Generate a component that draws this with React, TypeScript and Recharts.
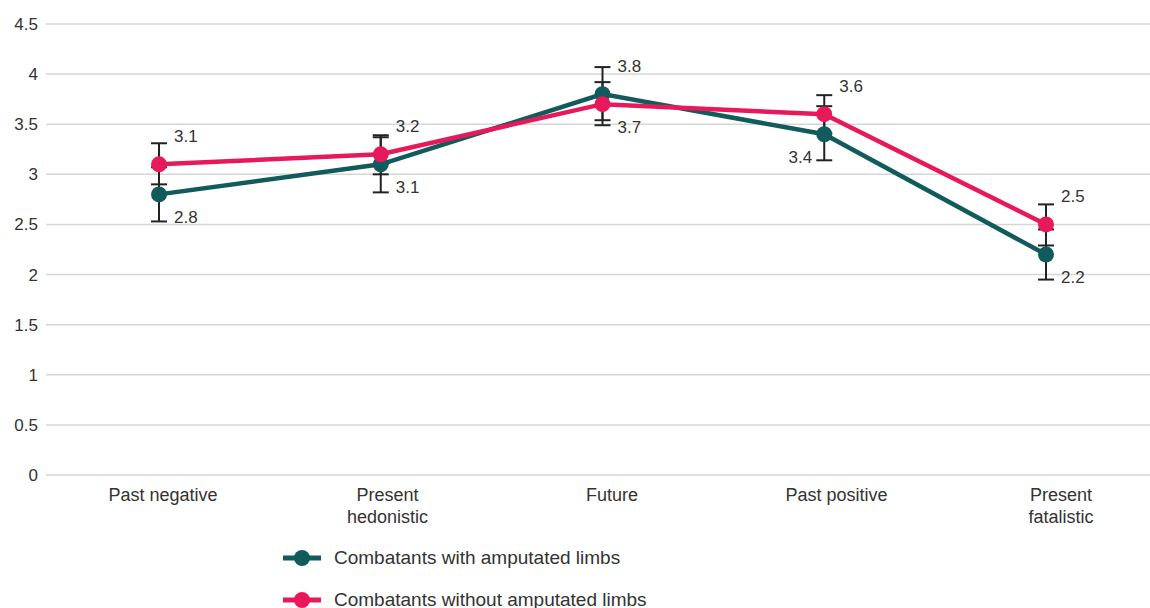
import React from "react";
import {
  LineChart,
  Line,
  XAxis,
  YAxis,
  CartesianGrid,
  ErrorBar,
  LabelList,
  Legend,
} from "recharts";

const categories = [
  "Past negative",
  "Present hedonistic",
  "Future",
  "Past positive",
  "Present fatalistic",
];
const withAmputation = [2.8, 3.1, 3.8, 3.4, 2.2];
const withoutAmputation = [3.1, 3.2, 3.7, 3.6, 2.5];
// [below, above] spread of each mean
const withAmputationErr = [
  [0.27, 0.27],
  [0.28, 0.27],
  [0.26, 0.27],
  [0.26, 0.28],
  [0.25, 0.25],
];
const withoutAmputationErr = [
  [0.2, 0.21],
  [0.2, 0.19],
  [0.21, 0.22],
  [0.19, 0.19],
  [0.21, 0.2],
];
const yTicks = [0, 0.5, 1, 1.5, 2, 2.5, 3, 3.5, 4, 4.5];

const TEAL = "#125b5c";
const PINK = "#e8195b";
const TEXT = "#333333";
const FONT = "'Liberation Sans', Arial, sans-serif";

const data = categories.map((name, i) => ({
  name,
  withAmp: withAmputation[i],
  withoutAmp: withoutAmputation[i],
  withAmpErr: withAmputationErr[i],
  withoutAmpErr: withoutAmputationErr[i],
}));

// value label: above the dot for the higher series, below for the lower one,
// flipped to the left when the line falls steeply right after the point
function valueLabel(own: number[], other: number[]) {
  return (props: any) => {
    const { x, y, index } = props;
    const v = own[index];
    const above = v > other[index];
    const next = own[index + 1];
    const toLeft = !above && next !== undefined && v - next > 0.5;
    return (
      <text
        x={toLeft ? x - 12 : x + 15}
        y={above ? y - 28 : y + 23}
        textAnchor={toLeft ? "end" : "start"}
        dominantBaseline="central"
        fontSize={17}
        fill={TEXT}
      >
        {v.toFixed(1)}
      </text>
    );
  };
}

// long two-word category names break after the first word
const CategoryTick = (props: any) => {
  const { x, y, payload } = props;
  const value = String(payload.value);
  const words = value.split(" ");
  const lines = value.length > 14 ? [words[0], words.slice(1).join(" ")] : [value];
  return (
    <text x={x} y={y + 18} textAnchor="middle" fontSize={18} fill={TEXT}>
      {lines.map((line, i) => (
        <tspan key={i} x={x} dy={i === 0 ? 0 : 22}>
          {line}
        </tspan>
      ))}
    </text>
  );
};

const LegendBox = (props: any) => {
  const items = (props.payload || []).filter((p: any) => p.type !== "none");
  return (
    <div style={{ height: 90 }}>
      {items.map((item: any) => (
        <div
          key={item.value}
          style={{
            display: "flex",
            alignItems: "center",
            height: 26,
            marginBottom: 16,
          }}
        >
          <svg width={38} height={20} style={{ marginRight: 13 }}>
            <line x1={0} y1={10} x2={38} y2={10} stroke={item.color} strokeWidth={5} />
            <circle cx={19} cy={10} r={8} fill={item.color} />
          </svg>
          <span style={{ fontSize: 19, color: TEXT, whiteSpace: "nowrap" }}>
            {item.value}
          </span>
        </div>
      ))}
    </div>
  );
};

export default function App() {
  return (
    <div
      style={{
        position: "fixed",
        left: 0,
        top: 0,
        width: 1150,
        height: 608,
        overflow: "hidden",
        background: "#fff",
        fontFamily: FONT,
      }}
    >
      <LineChart
        width={1150}
        height={635}
        data={data}
        margin={{ top: 24, right: 0, bottom: 0, left: 0 }}
      >
        <CartesianGrid
          xAxisId="pts"
          vertical={false}
          stroke="#d6d6d6"
          strokeWidth={1.5}
        />
        {/* the points and the category names sit on slightly different spacings */}
        <XAxis
          xAxisId="pts"
          dataKey="name"
          hide
          padding={{ left: 113, right: 104 }}
        />
        <XAxis
          xAxisId="lbl"
          dataKey="name"
          height={70}
          padding={{ left: 117, right: 89 }}
          axisLine={false}
          tickLine={false}
          interval={0}
          tick={<CategoryTick />}
        />
        <YAxis
          domain={[0, 4.5]}
          ticks={yTicks}
          width={46}
          axisLine={false}
          tickLine={false}
          tick={{ fontSize: 17, fill: TEXT }}
        />

        {/* error bars sit underneath both lines */}
        <Line
          xAxisId="pts"
          dataKey="withAmp"
          stroke="none"
          dot={false}
          activeDot={false}
          legendType="none"
          isAnimationActive={false}
        >
          <ErrorBar dataKey="withAmpErr" width={8} strokeWidth={2} stroke="#222" direction="y" />
        </Line>
        <Line
          xAxisId="pts"
          dataKey="withoutAmp"
          stroke="none"
          dot={false}
          activeDot={false}
          legendType="none"
          isAnimationActive={false}
        >
          <ErrorBar dataKey="withoutAmpErr" width={8} strokeWidth={2} stroke="#222" direction="y" />
        </Line>

        <Line
          xAxisId="pts"
          dataKey="withAmp"
          name="Combatants with amputated limbs"
          stroke={TEAL}
          strokeWidth={4.5}
          dot={{ r: 8, fill: TEAL, stroke: "none" }}
          activeDot={false}
          isAnimationActive={false}
        >
          <LabelList dataKey="withAmp" content={valueLabel(withAmputation, withoutAmputation)} />
        </Line>
        <Line
          xAxisId="pts"
          dataKey="withoutAmp"
          name="Combatants without amputated limbs"
          stroke={PINK}
          strokeWidth={4.5}
          dot={{ r: 8, fill: PINK, stroke: "none" }}
          activeDot={false}
          isAnimationActive={false}
        >
          <LabelList dataKey="withoutAmp" content={valueLabel(withoutAmputation, withAmputation)} />
        </Line>

        <Legend
          layout="vertical"
          align="center"
          verticalAlign="bottom"
          content={<LegendBox />}
          wrapperStyle={{ left: 283, width: "auto", height: 90 }}
        />
      </LineChart>
    </div>
  );
}
